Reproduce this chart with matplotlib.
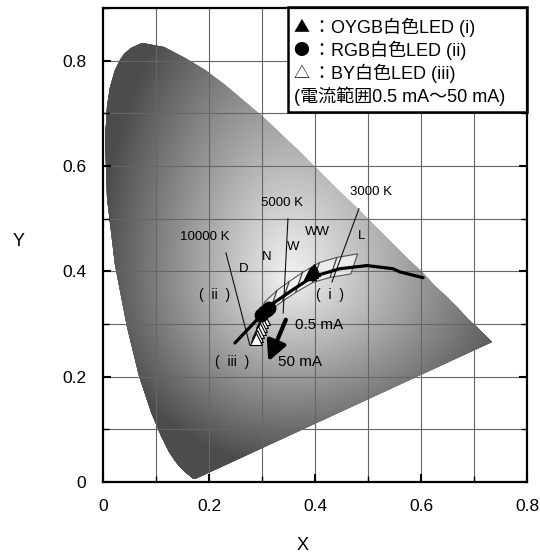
import matplotlib
matplotlib.use("Agg")
import matplotlib.pyplot as plt
import numpy as np
from matplotlib.patches import Polygon

plt.rcParams['font.family'] = ['Liberation Sans', 'Noto Sans CJK JP', 'DejaVu Sans']

# CIE 1931 spectral locus (x, y)
locus_x = [0.1741, 0.1733, 0.1714, 0.1689, 0.1644, 0.1566, 0.1440, 0.1355, 0.1241, 0.1096,
           0.0913, 0.0687, 0.0454, 0.0235, 0.0082, 0.0039, 0.0049, 0.0077, 0.0139, 0.0228,
           0.0328, 0.0389, 0.0527, 0.0743, 0.1142,
           0.1547, 0.1929, 0.2296, 0.2658, 0.3016, 0.3373, 0.3731, 0.4087, 0.4441, 0.4788,
           0.5125, 0.5448, 0.5752, 0.6029, 0.6270, 0.6482, 0.6658, 0.6915, 0.7079, 0.7190,
           0.7260, 0.7347]
locus_y = [0.0050, 0.0048, 0.0051, 0.0069, 0.0109, 0.0177, 0.0297, 0.0399, 0.0578, 0.0868,
           0.1327, 0.2007, 0.2950, 0.4127, 0.5384, 0.6548, 0.6798, 0.7140, 0.7502, 0.7818,
           0.8012, 0.8120, 0.8232, 0.8338, 0.8262,
           0.8059, 0.7816, 0.7543, 0.7243, 0.6923, 0.6589, 0.6245, 0.5896, 0.5547, 0.5202,
           0.4866, 0.4544, 0.4242, 0.3965, 0.3725, 0.3514, 0.3340, 0.3083, 0.2920, 0.2809,
           0.2740, 0.2653]

# black body locus as drawn
bb_x = [0.249, 0.296, 0.325, 0.358, 0.396, 0.447, 0.498, 0.547, 0.560, 0.604]
bb_y = [0.264, 0.314, 0.342, 0.365, 0.390, 0.405, 0.411, 0.405, 0.399, 0.388]

# isotemperature lines
iso_labels = ['10000 K', '5000 K', '3000 K']
iso_x = [[0.232, 0.277], [0.349, 0.340], [0.483, 0.432]]
iso_y = [[0.435, 0.260], [0.500, 0.321], [0.519, 0.380]]
iso_lx = [0.192, 0.338, 0.506]
iso_ly = [0.466, 0.530, 0.551]

# chromaticity classes
bin_names = ['D', 'N', 'W', 'WW', 'L']
bin_edges = [0.298, 0.322, 0.345, 0.370, 0.402, 0.435, 0.474]
bin_lx = [0.266, 0.308, 0.358, 0.404, 0.487]
bin_ly = [0.405, 0.428, 0.447, 0.475, 0.468]

# measured LED points
oygb_x = [0.391, 0.395, 0.399]
oygb_y = [0.395, 0.399, 0.402]
rgb_x = [0.299, 0.304, 0.309, 0.314]
rgb_y = [0.317, 0.322, 0.327, 0.331]
by_x = [0.303, 0.300, 0.298, 0.296, 0.293, 0.291, 0.288]
by_y = [0.310, 0.303, 0.297, 0.290, 0.284, 0.278, 0.272]

legend_marks = ['▲', '●', '△']
legend_texts = ['：OYGB白色LED (i)', '：RGB白色LED (ii)', '：BY白色LED (iii)']
legend_note = '(電流範囲0.5 mA～50 mA)'

fig = plt.figure(figsize=(5.4, 5.55), dpi=100)
ax = fig.add_axes([0.1907, 0.1315, 0.7852, 0.854])
ax.set_xlim(0, 0.8)
ax.set_ylim(0, 0.9)

# shaded horseshoe
gx, gy = np.meshgrid(np.linspace(0, 0.8, 321), np.linspace(0, 0.9, 361))
dx = np.where(gx < 0.35, 1.3, 1.0) * (gx - 0.35)
dy = np.where(gy < 0.39, 1.3, 0.75) * (gy - 0.39)
shade = np.clip(0.95 - 1.4 * np.sqrt(dx ** 2 + dy ** 2), 0.3, 1.0)
mesh = ax.pcolormesh(gx, gy, shade, cmap='gray', vmin=0, vmax=1, shading='gouraud',
                     zorder=0.2)
horseshoe = Polygon(np.column_stack([locus_x, locus_y]), closed=True,
                    transform=ax.transData, facecolor='none', edgecolor='none')
mesh.set_clip_path(horseshoe)

# grid and ticks
grid_x = np.arange(0.1, 0.8, 0.1)
grid_y = np.arange(0.1, 0.9, 0.1)
for g in grid_x:
    ax.plot([g, g], [0, 0.9], color='#666666', linewidth=0.8, zorder=1.5)
for g in grid_y:
    ax.plot([0, 0.8], [g, g], color='#666666', linewidth=0.8, zorder=1.5)
ax.set_xticks(np.arange(0, 0.81, 0.1), minor=True)
ax.set_yticks(np.arange(0, 0.91, 0.1), minor=True)
ax.set_xticks([0, 0.2, 0.4, 0.6, 0.8])
ax.set_yticks([0, 0.2, 0.4, 0.6, 0.8])
ax.set_xticklabels(['0', '0.2', '0.4', '0.6', '0.8'])
ax.set_yticklabels(['0', '0.2', '0.4', '0.6', '0.8'])
ax.tick_params(which='major', direction='in', length=6, width=1.5, labelsize=12.5,
               right=True, pad=12)
ax.tick_params(which='minor', direction='in', length=4, width=1.0, right=True)
for s in ax.spines.values():
    s.set_linewidth(1.6)
    s.set_zorder(9)

ax.set_xlabel('X', fontsize=13)
ax.xaxis.set_label_coords(0.47, -0.115)
ax.set_ylabel('Y', fontsize=13, rotation=0)
ax.yaxis.set_label_coords(-0.2, 0.49)

# class boxes
side = np.array([0.013, 0.038])
cy = np.interp(bin_edges, bb_x, bb_y) + 0.006
for i in range(len(bin_edges) - 1):
    p0 = np.array([bin_edges[i], cy[i]])
    p1 = np.array([bin_edges[i + 1], cy[i + 1]])
    pts = [p0 - side / 2, p1 - side / 2, p1 + side / 2, p0 + side / 2]
    ax.add_patch(Polygon(pts, closed=True, facecolor='#f4f4f4', alpha=0.75,
                         edgecolor='#222222', linewidth=0.8, zorder=2))
for name, lx, ly in zip(bin_names, bin_lx, bin_ly):
    ax.text(lx, ly, name, fontsize=9.5, ha='center', va='center', zorder=5)

# isotemperature lines
for lab, xs, ys, lx, ly in zip(iso_labels, iso_x, iso_y, iso_lx, iso_ly):
    ax.plot(xs, ys, color='#111111', linewidth=0.8, zorder=3)
    ax.text(lx, ly, lab, fontsize=9.5, ha='center', va='center', zorder=5)

# black body locus
ax.plot(bb_x, bb_y, color='black', linewidth=2.3, zorder=4, solid_capstyle='round')

# LED points
ax.plot(by_x, by_y, linestyle='none', marker='^', markersize=8, markerfacecolor='white',
        markeredgecolor='black', markeredgewidth=0.8, zorder=5)
ax.plot(rgb_x, rgb_y, linestyle='none', marker='o', markersize=9, color='black', zorder=6)
ax.plot(oygb_x, oygb_y, linestyle='none', marker='^', markersize=9, color='black', zorder=6)

# annotations
ax.text(0.211, 0.356, '(  ii  )', fontsize=10, ha='center', va='center', zorder=5)
ax.text(0.428, 0.356, '(  i  )', fontsize=10, ha='center', va='center', zorder=5)
ax.text(0.243, 0.228, '(  iii  )', fontsize=10, ha='center', va='center', zorder=5)
ax.text(0.362, 0.298, '0.5 mA', fontsize=11, ha='left', va='center', zorder=5)
ax.text(0.330, 0.228, '50 mA', fontsize=11, ha='left', va='center', zorder=5)
ax.annotate('', xy=(0.310, 0.224), xytext=(0.347, 0.313),
            arrowprops=dict(arrowstyle='-|>,head_length=1.2,head_width=0.6',
                            color='black', linewidth=3.0), zorder=6)

# legend box
lx0 = (288 - 103) / 530
ax.add_patch(plt.Rectangle((lx0, 0.702), 0.8 - lx0, 0.2, facecolor='white',
                           edgecolor='black', linewidth=1.8, zorder=7, clip_on=False))
mix = ['Liberation Sans', 'Noto Sans CJK JP']
for k, (mk, txt) in enumerate(zip(legend_marks, legend_texts)):
    yk = 0.863 - k * 0.0435
    ax.text(lx0 + 0.010, yk, mk, fontsize=11.5, ha='left', va='center',
            family=['Noto Sans CJK JP'], zorder=8)
    ax.text(lx0 + 0.047, yk, txt, fontsize=13, ha='left', va='center',
            family=mix, zorder=8)
ax.text(lx0 + 0.012, 0.863 - 3 * 0.0435, legend_note, fontsize=13, ha='left',
        va='center', family=mix, zorder=8)

fig.savefig('out.png', dpi=100)
